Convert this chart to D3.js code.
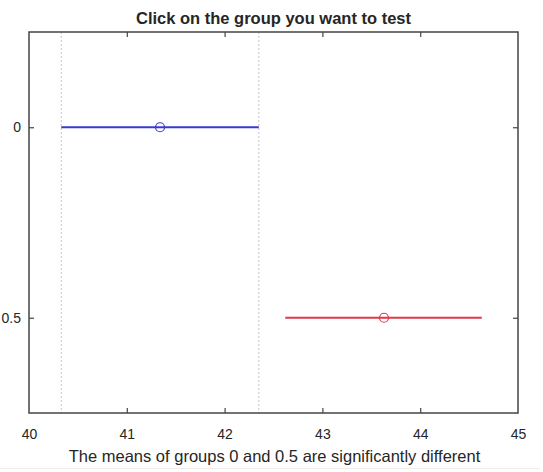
<!DOCTYPE html>
<html>
<head>
<meta charset="utf-8">
<script src="https://cdn.jsdelivr.net/npm/d3@7"></script>
<style>
  html, body { margin: 0; padding: 0; background: #fff; }
  svg { display: block; }
  text { font-family: "Liberation Sans", Arial, sans-serif; fill: #262626; }
</style>
</head>
<body>
<svg id="chart" width="543" height="472"></svg>
<script>
// Groups compared and their estimated means with comparison intervals
const groups = ["0", "0.5"];
const means = [41.34, 43.63];
const lower = [40.33, 42.62];
const upper = [42.35, 44.63];
const colors = ["#3a3acc", "#de3a4a"];
const xTicks = [40, 41, 42, 43, 44, 45];
const selected = 0; // index of the group being tested

const svg = d3.select("#chart");
const m = { left: 29, right: 518, top: 32, bottom: 413 };

const x = d3.scaleLinear().domain([40, 45]).range([m.left, m.right]);
// groups sit at positions 1..n, padded half a step each side
const y = d3.scaleLinear().domain([0.5, groups.length + 0.5]).range([m.top, m.bottom]);

// faint rule under the figure
svg.append("line")
  .attr("x1", 0).attr("x2", 540).attr("y1", 468.5).attr("y2", 468.5)
  .attr("stroke", "#ececec").attr("stroke-width", 1);

// dotted reference lines at the selected group's interval bounds
svg.selectAll("line.ref")
  .data([lower[selected], upper[selected]])
  .join("line")
  .attr("class", "ref")
  .attr("x1", d => x(d)).attr("x2", d => x(d))
  .attr("y1", m.top).attr("y2", m.bottom)
  .attr("stroke", "#c4c4c4")
  .attr("stroke-width", 1)
  .attr("stroke-dasharray", "2,2");

// interval lines
const rows = groups.map((g, i) => ({ g, i, mean: means[i], lo: lower[i], hi: upper[i], c: colors[i] }));

svg.selectAll("line.ci")
  .data(rows)
  .join("line")
  .attr("class", "ci")
  .attr("x1", d => x(d.lo)).attr("x2", d => x(d.hi))
  .attr("y1", d => y(d.i + 1)).attr("y2", d => y(d.i + 1))
  .attr("stroke", d => d.c)
  .attr("stroke-width", 2);

// mean markers
svg.selectAll("circle.mean")
  .data(rows)
  .join("circle")
  .attr("class", "mean")
  .attr("cx", d => x(d.mean))
  .attr("cy", d => y(d.i + 1))
  .attr("r", 4.5)
  .attr("fill", "none")
  .attr("stroke", d => d.c)
  .attr("stroke-width", 1.2);

// axes with inward ticks on all four sides
const axisColor = "#444";
const tickLen = 5;

const bottomAxis = svg.append("g")
  .attr("transform", `translate(0,${m.bottom})`)
  .call(d3.axisBottom(x).tickValues(xTicks).tickFormat(d3.format("d"))
    .tickSizeInner(-tickLen).tickSizeOuter(0).tickPadding(16));
const topAxis = svg.append("g")
  .attr("transform", `translate(0,${m.top})`)
  .call(d3.axisTop(x).tickValues(xTicks).tickSizeInner(-tickLen).tickSizeOuter(0).tickFormat(""));
const leftAxis = svg.append("g")
  .attr("transform", `translate(${m.left},0)`)
  .call(d3.axisLeft(y).tickValues(groups.map((g, i) => i + 1))
    .tickFormat((d, i) => groups[i]).tickSizeInner(-tickLen).tickSizeOuter(0).tickPadding(8));
const rightAxis = svg.append("g")
  .attr("transform", `translate(${m.right},0)`)
  .call(d3.axisRight(y).tickValues(groups.map((g, i) => i + 1))
    .tickSizeInner(-tickLen).tickSizeOuter(0).tickFormat(""));

[bottomAxis, topAxis, leftAxis, rightAxis].forEach(a => {
  a.select(".domain").remove();
  a.selectAll(".tick line").attr("stroke", axisColor).attr("stroke-width", 1.2);
  a.selectAll(".tick text")
    .style("font-family", '"Liberation Sans", Arial, sans-serif')
    .style("font-size", "14px")
    .attr("fill", "#262626");
});
// the corner ticks coincide with the box edges
bottomAxis.selectAll(".tick line").filter(d => d === 40 || d === 45).remove();
topAxis.selectAll(".tick line").filter(d => d === 40 || d === 45).remove();

// box
svg.append("rect")
  .attr("x", m.left).attr("y", m.top)
  .attr("width", m.right - m.left).attr("height", m.bottom - m.top)
  .attr("fill", "none")
  .attr("stroke", axisColor)
  .attr("stroke-width", 1.5);

// title
svg.append("text")
  .attr("x", (m.left + m.right) / 2).attr("y", 24)
  .attr("text-anchor", "middle")
  .style("font-size", "16.5px")
  .style("font-weight", "bold")
  .text("Click on the group you want to test");

// result line under the axis
svg.append("text")
  .attr("x", (m.left + m.right) / 2 + 1).attr("y", 462)
  .attr("text-anchor", "middle")
  .style("font-size", "16.5px")
  .text(`The means of groups ${groups[0]} and ${groups[1]} are significantly different`);
</script>
</body>
</html>
